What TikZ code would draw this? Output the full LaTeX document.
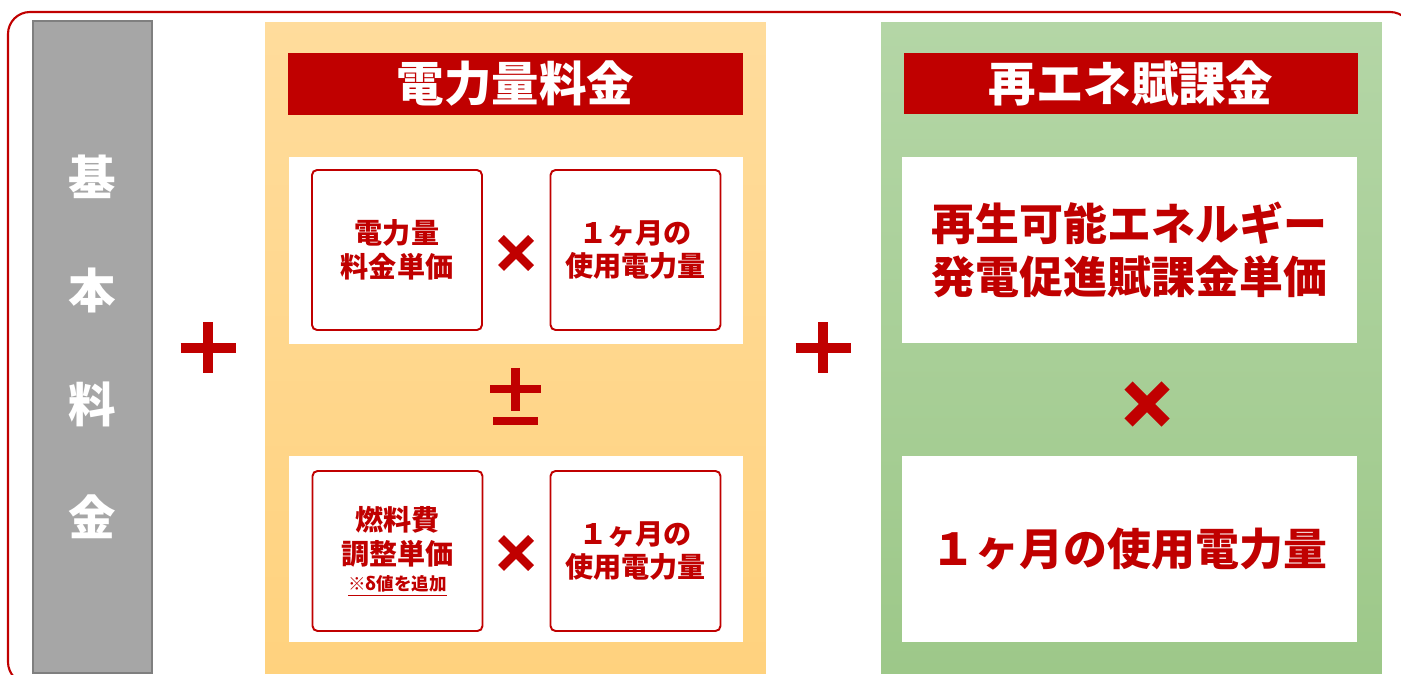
\documentclass[tikz,border=0pt]{standalone}
\usepackage{fontspec}
\setmainfont{Noto Sans CJK JP}
\definecolor{redA}{RGB}{192, 0, 0}
\definecolor{grayA}{RGB}{166, 166, 166}
\definecolor{grayB}{RGB}{127, 127, 127}
\definecolor{orangeA}{RGB}{255, 220, 156}
\definecolor{orangeB}{RGB}{255, 210, 126}
\definecolor{greenA}{RGB}{180, 214, 166}
\definecolor{greenB}{RGB}{157, 200, 137}

\begin{document}
\begin{tikzpicture}[x=0.02cm, y=-0.02cm,
  panel/.style={minimum width=10.02cm, minimum height=13.04cm, inner sep=0pt},
  header/.style={fill=redA, text=white, font=\bfseries\fontsize{27}{30}\selectfont,
    minimum width=9.1cm, minimum height=1.24cm, inner sep=0pt},
  row/.style={fill=white, minimum width=9.08cm, minimum height=3.74cm, inner sep=0pt},
  unit/.style={draw=redA, line width=1.1pt, rounded corners=0.1cm, fill=white,
    minimum width=3.4cm, minimum height=3.2cm, inner sep=0pt, text=redA, align=center,
    font=\bfseries\fontsize{16}{19.3}\selectfont},
  bigtext/.style={text=redA, align=center, font=\bfseries\fontsize{25}{30}\selectfont},
  sign/.style={redA, line width=5.9pt}]

\clip (0,0) rectangle (1401,675);

%%% FRAME

\draw[redA, line width=1.2pt, rounded corners=0.44cm] (8,12) rectangle (1412,684);

%%% BASIC CHARGE

\node[fill=grayA, draw=grayB, line width=0.9pt, minimum width=2.38cm, minimum height=13.04cm,
  inner sep=0pt, text=white, align=center, font=\bfseries\fontsize{27}{64.6}\selectfont]
  (kihon) at (92.5,347) {基\\本\\料\\金};

%%% PANELS

\node[panel, top color=orangeA, bottom color=orangeB] (denryoku) at (515.5,348) {};
\node[panel, top color=greenA, bottom color=greenB] (saiene) at (1131.5,348) {};

\node[header] (denryokuHead) at (515.5,84) {電力量料金};
\node[header] (saieneHead) at (1131,83.5) {再エネ賦課金};

%%% ENERGY CHARGE

\node[row] (rowA) at (516,250.5) {};
\node[row] (rowB) at (516,549) {};

\node[unit] (tankaA) at (397,250) {電力量\\料金単価};
\node[unit] (usageA) at (635.5,250) {１ヶ月の\\使用電力量};
\node[unit] (tankaB) at (397.5,551) {燃料費\\調整単価\\[-4pt]{\fontsize{10}{12}\selectfont\textcolor{redA}{\underline{※δ値を追加}}}};
\node[unit] (usageB) at (635.5,551) {１ヶ月の\\使用電力量};

%%% RENEWABLE LEVY

\node[row, bigtext, minimum width=9.1cm, minimum height=3.72cm] (rowC) at (1129.5,250) {再生可能エネルギー\\発電促進賦課金単価};
\node[row, bigtext, minimum width=9.1cm, minimum height=3.72cm] (rowD) at (1129.5,549) {１ヶ月の使用電力量};

%%% SIGNS

% plus
\draw[sign] (180.5,348) -- (235.5,348) (208,322.5) -- (208,373.5);
\draw[sign] (795.5,348) -- (850.5,348) (823,322.5) -- (823,373.5);

% plus-minus
\draw[sign, line width=5pt] (490,389) -- (541,389) (515.5,368) -- (515.5,411) (493,421) -- (538,421);

% times
\draw[sign, line width=4.8pt] (501,238) -- (531,268) (501,268) -- (531,238);
\draw[sign, line width=4.8pt] (501,538) -- (531,568) (501,568) -- (531,538);
\draw[sign, line width=6.5pt] (1128.5,385.5) -- (1165.5,422.5) (1128.5,422.5) -- (1165.5,385.5);

\end{tikzpicture}
\end{document}
